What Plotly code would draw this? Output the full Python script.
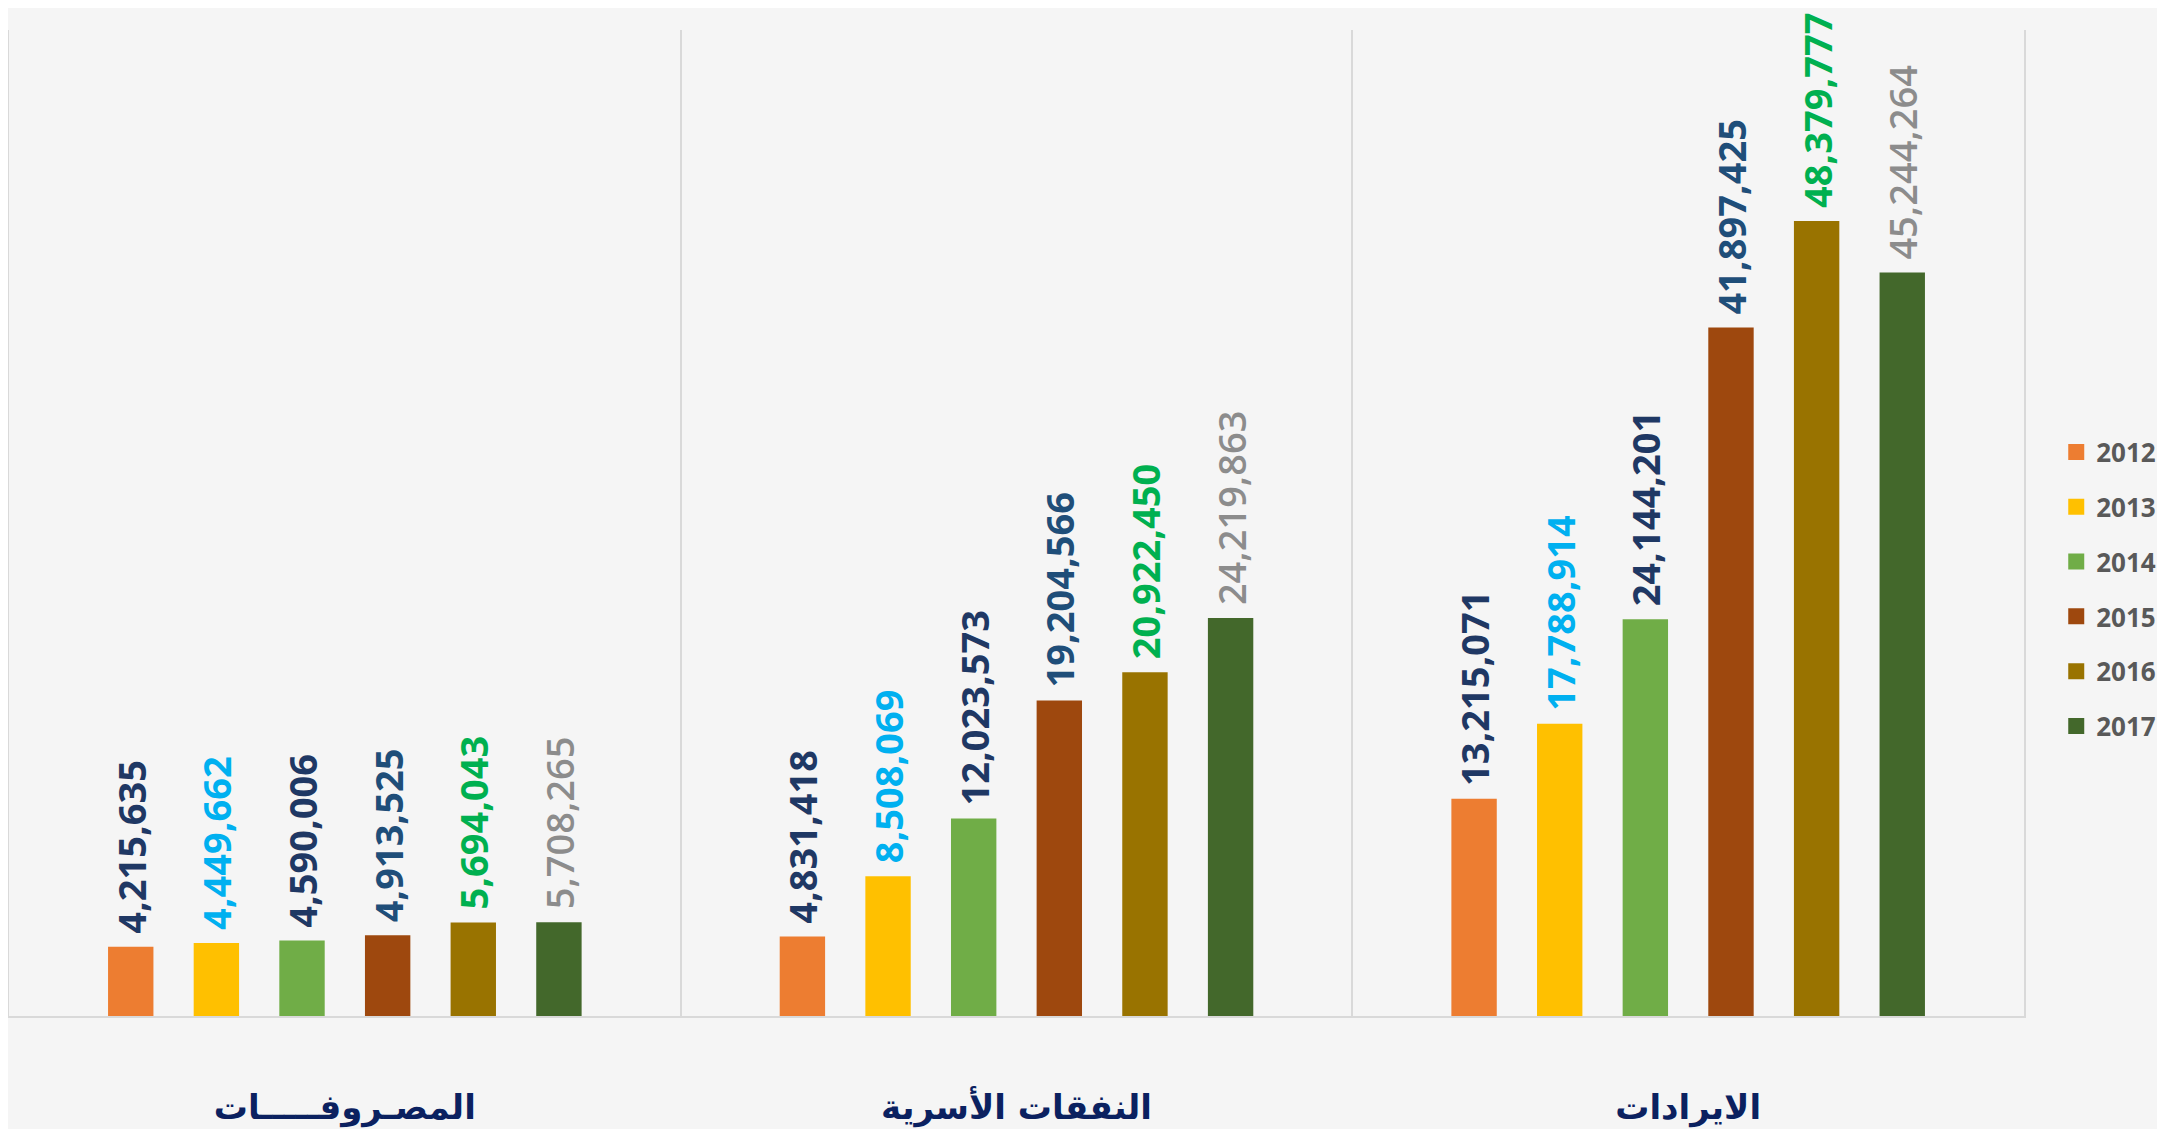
import plotly.graph_objects as go

categories = ["المصـروفـــــات", "النفقات الأسرية", "الايرادات"]
years = ["2012", "2013", "2014", "2015", "2016", "2017"]
v2012 = [4215635, 4831418, 13215071]
v2013 = [4449662, 8508069, 17788914]
v2014 = [4590006, 12023573, 24144201]
v2015 = [4913525, 19204566, 41897425]
v2016 = [5694043, 20922450, 48379777]
v2017 = [5708265, 24219863, 45244264]
series = [v2012, v2013, v2014, v2015, v2016, v2017]

bar_colors = ["#ED7D31", "#FFC000", "#70AD47", "#9E480E", "#997300", "#43682B"]
label_colors = ["#1F3864", "#00B0F0", "#1F3864", "#1F4E79", "#00B050", "#8C8C8C"]
label_weights = ["bold", "bold", "bold", "bold", "bold", 600]

fig = go.Figure()
for i, (yr, vals) in enumerate(zip(years, series)):
    fig.add_trace(go.Bar(
        x=categories, y=vals, name=yr,
        marker=dict(color=bar_colors[i], line=dict(width=0)),
        texttemplate="\u00a0%{y:,.0f}",
        textposition="outside",
        textangle=-90,
        constraintext="none",
        cliponaxis=False,
        outsidetextfont=dict(color=label_colors[i], size=38, family="Open Sans",
                             weight=label_weights[i]),
        showlegend=False,
        hoverinfo="skip",
    ))

# legend entries (square swatches)
for i, yr in enumerate(years):
    fig.add_trace(go.Scatter(
        x=[None], y=[None], mode="markers", name=yr,
        marker=dict(color=bar_colors[i], symbol="square", size=16),
        legendgroup=yr, showlegend=True, hoverinfo="skip",
    ))

fig.update_layout(
    width=2157, height=1121,
    barmode="group", bargap=0.235, bargroupgap=0.47,
    paper_bgcolor="#f5f5f5", plot_bgcolor="#f5f5f5",
    margin=dict(l=1, r=141, t=22, b=111),
    showlegend=True,
    legend=dict(x=1.016, y=0.433, xanchor="left", yanchor="middle",
                font=dict(size=26, color="#595959", family="Open Sans", weight="bold"),
                tracegroupgap=18, bgcolor="rgba(0,0,0,0)", itemwidth=30),
    xaxis=dict(
        tickson="boundaries", showgrid=True, gridcolor="#d9d9d9", gridwidth=1.5,
        showline=True, linecolor="#d9d9d9", linewidth=1.5,
        ticks="", ticklabelstandoff=60,
        tickfont=dict(size=34, color="#0B2160", family="DejaVu Sans", weight="bold"),
        range=[-0.5, 2.5],
    ),
    yaxis=dict(
        range=[0, 60000000], showgrid=False, zeroline=False, showticklabels=False,
        showline=True, mirror=True, linecolor="#d9d9d9", linewidth=1.5,
    ),
)

fig.write_html("out.html")
